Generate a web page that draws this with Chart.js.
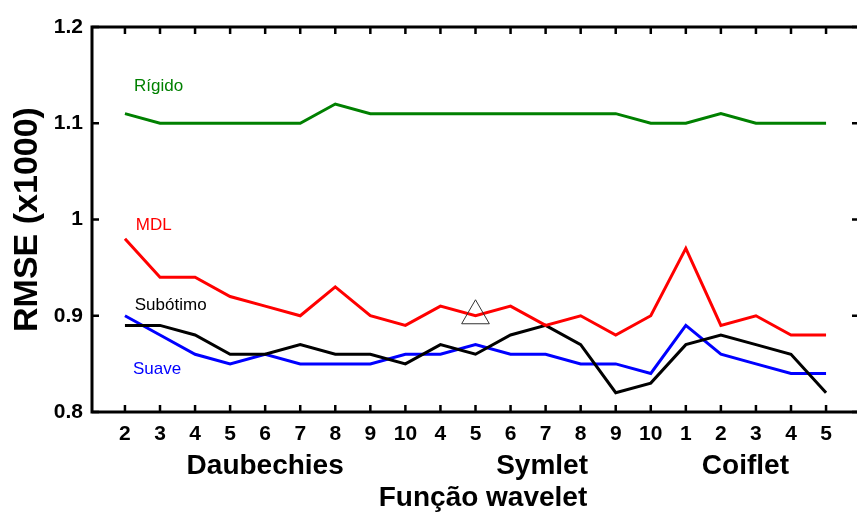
<!DOCTYPE html>
<html>
<head>
<meta charset="utf-8">
<script src="https://cdn.jsdelivr.net/npm/chart.js@4/dist/chart.umd.min.js"></script>
<style>
html,body{margin:0;padding:0;background:#fff;overflow:hidden;}
#c{display:block;width:862px;height:516px;}
</style>
</head>
<body>
<canvas id="c" width="862" height="516"></canvas>
<script>
// ---- data ----
const tickLabels = ['2','3','4','5','6','7','8','9','10','4','5','6','7','8','9','10','1','2','3','4','5'];
const groupNames = ['Daubechies','Symlet','Coiflet'];
const seriesNames = ['Rígido','MDL','Subótimo','Suave'];
const rigido   = [1.11,1.10,1.10,1.10,1.10,1.10,1.12,1.11,1.11, 1.11,1.11,1.11,1.11,1.11,1.11,1.10, 1.10,1.11,1.10,1.10,1.10];
const mdl      = [0.98,0.94,0.94,0.92,0.91,0.90,0.93,0.90,0.89, 0.91,0.90,0.91,0.89,0.90,0.88,0.90, 0.97,0.89,0.90,0.88,0.88];
const subotimo = [0.89,0.89,0.88,0.86,0.86,0.87,0.86,0.86,0.85, 0.87,0.86,0.88,0.89,0.87,0.82,0.83, 0.87,0.88,0.87,0.86,0.82];
const suave    = [0.90,0.88,0.86,0.85,0.86,0.85,0.85,0.85,0.86, 0.86,0.87,0.86,0.86,0.85,0.85,0.84, 0.89,0.86,0.85,0.84,0.84];
const markerIndex = [10];
const markerValue = [0.90];
const yTicks = [0.8,0.9,1.0,1.1,1.2];

// ---- styling / placement (not data) ----
const colors = ['rgb(0,128,0)','rgb(255,0,0)','rgb(0,0,0)','rgb(0,0,255)'];
const labelAnchors = [[0.26,1.1335],[0.31,0.989],[0.28,0.906],[0.23,0.8395]]; // [x index, y value] of label baseline-left
const groupCenters = [4.0,11.9,17.7];
const FONT = '"Liberation Sans", Arial, sans-serif';

const toPts = arr => arr.map((v,i)=>({x:i,y:v}));
const allSeries = [rigido, mdl, subotimo, suave];

const datasets = allSeries.map((s,k)=>({
  label: seriesNames[k],
  data: toPts(s),
  borderColor: colors[k],
  backgroundColor: colors[k],
  borderWidth: 3,
  pointRadius: 0,
  tension: 0,
  fill: false
}));
datasets.unshift({
  type: 'scatter',
  label: 'marker',
  data: markerIndex.map((xi,i)=>({x:xi,y:markerValue[i]})),
  pointStyle: 'triangle',
  pointRadius: 16,
  pointHoverRadius: 16,
  borderColor: '#333',
  backgroundColor: 'rgba(0,0,0,0)',
  borderWidth: 1
});

const decor = {
  id: 'decor',
  afterDraw(chart) {
    const {ctx, chartArea: a, scales: {x, y}} = chart;
    ctx.save();
    ctx.strokeStyle = '#000';
    ctx.lineWidth = 3;
    ctx.beginPath();
    ctx.moveTo(a.left, a.top); ctx.lineTo(a.right, a.top);
    ctx.lineTo(a.right, a.bottom); ctx.lineTo(a.left, a.bottom);
    ctx.closePath(); ctx.stroke();
    ctx.lineWidth = 2.5;
    const tl = 7;
    ctx.beginPath();
    tickLabels.forEach((_,i)=>{
      const px = x.getPixelForValue(i);
      ctx.moveTo(px, a.top); ctx.lineTo(px, a.top+tl);
      ctx.moveTo(px, a.bottom); ctx.lineTo(px, a.bottom-tl);
    });
    yTicks.forEach(v=>{
      const py = y.getPixelForValue(v);
      ctx.moveTo(a.left, py); ctx.lineTo(a.left+tl, py);
      ctx.moveTo(a.right, py); ctx.lineTo(a.right-tl, py);
    });
    ctx.stroke();

    // series labels
    ctx.font = '17px ' + FONT;
    ctx.textAlign = 'left';
    ctx.textBaseline = 'alphabetic';
    seriesNames.forEach((n,k)=>{
      ctx.fillStyle = colors[k];
      ctx.fillText(n, x.getPixelForValue(labelAnchors[k][0]), y.getPixelForValue(labelAnchors[k][1]));
    });

    // group labels
    ctx.fillStyle = '#000';
    ctx.font = 'bold 28px ' + FONT;
    ctx.textAlign = 'center';
    groupNames.forEach((g,i)=>{
      ctx.fillText(g, x.getPixelForValue(groupCenters[i]), 474);
    });
    // axis titles
    ctx.fillText('Função wavelet', 483, 506);
    ctx.save();
    ctx.translate(37, (a.top + a.bottom) / 2);
    ctx.rotate(-Math.PI/2);
    ctx.font = 'bold 34px ' + FONT;
    ctx.fillText('RMSE (x1000)', 0, 0);
    ctx.restore();
    ctx.restore();
  }
};

new Chart(document.getElementById('c'), {
  type: 'line',
  data: { datasets },
  options: {
    responsive: false,
    maintainAspectRatio: false,
    animation: false,
    devicePixelRatio: 1,
    layout: { autoPadding: false, padding: { top: 27, right: 3, left: 0, bottom: 0 } },
    plugins: { legend: { display: false }, tooltip: { enabled: false } },
    scales: {
      x: {
        type: 'linear',
        position: 'bottom',
        min: -0.94,
        max: 20.94,
        afterFit: s => { s.height = 104; s.paddingLeft = 0; s.paddingRight = 0; },
        afterBuildTicks: s => { s.ticks = tickLabels.map((_,i)=>({value:i})); },
        grid: { display: false, drawTicks: false },
        border: { display: false },
        ticks: {
          autoSkip: false,
          maxRotation: 0,
          padding: 10,
          color: '#000',
          font: { family: FONT, size: 21, weight: 'bold' },
          callback: v => tickLabels[v] ?? ''
        }
      },
      y: {
        min: 0.8,
        max: 1.2,
        afterFit: s => { s.width = 92; s.paddingTop = 0; s.paddingBottom = 0; },
        afterBuildTicks: s => { s.ticks = yTicks.map(v=>({value:v})); },
        grid: { display: false, drawTicks: false },
        border: { display: false },
        ticks: {
          padding: 9,
          color: '#000',
          font: { family: FONT, size: 21, weight: 'bold' },
          callback: v => (Math.abs(v-1) < 1e-9 ? '1' : v.toFixed(1))
        }
      }
    }
  },
  plugins: [decor]
});
</script>
</body>
</html>
